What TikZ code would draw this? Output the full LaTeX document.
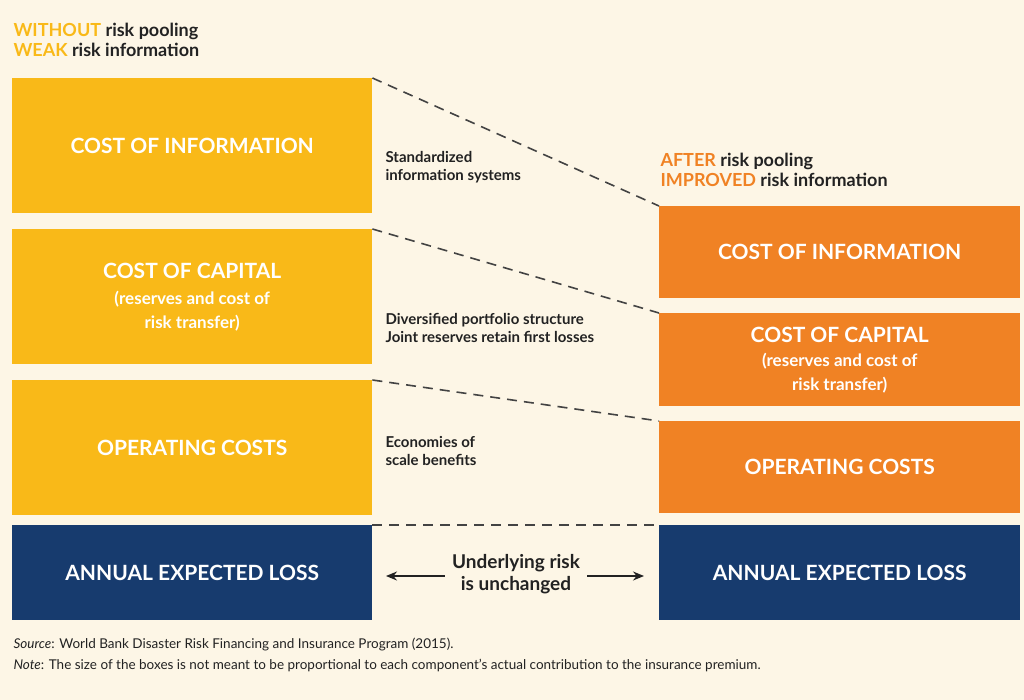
\documentclass[tikz,border=0pt]{standalone}
\usepackage{fontspec}
\setmainfont{Lato}
\usetikzlibrary{arrows.meta}
\definecolor{bg}{HTML}{FDF6E6}
\definecolor{yel}{HTML}{F9B918}
\definecolor{ora}{HTML}{F08224}
\definecolor{navy}{HTML}{173B6E}
\definecolor{dk}{HTML}{222222}
\begin{document}
\begin{tikzpicture}[x=1pt,y=-1pt,
 box/.style={minimum width=#1,inner sep=0pt,text=white,font=\fontsize{21}{24}\selectfont\bfseries,align=center},
 ybox/.style={box,fill=yel},
 obox/.style={box,fill=ora},
 nbox/.style={box,fill=navy},
 lbl/.style={font=\fontsize{15}{18}\selectfont\bfseries,text=dk,align=left,anchor=west},
 dline/.style={dk!85,dashed,dash pattern=on 10pt off 7pt,line width=1.6pt},
 sub/.style={font=\fontsize{18}{20}\selectfont\bfseries}]
\fill[bg] (0,0) rectangle (1024,700);
\useasboundingbox (0,0) rectangle (1024,700);
\node[ybox,minimum width=360pt,minimum height=135pt,anchor=north west] (l1) at (12,78) {COST OF INFORMATION};
\node[ybox,minimum width=360pt,minimum height=135pt,anchor=north west] (l2) at (12,229) {COST OF CAPITAL\\[2pt]{\fontsize{17}{20}\selectfont(reserves and cost of}\\{\fontsize{17}{20}\selectfont risk transfer)}};
\node[ybox,minimum width=360pt,minimum height=135pt,anchor=north west] (l3) at (12,380) {OPERATING COSTS};
\node[nbox,minimum width=360pt,minimum height=95pt,anchor=north west] (l4) at (12,525) {ANNUAL EXPECTED LOSS};
\node[obox,minimum width=361pt,minimum height=92pt,anchor=north west] (r1) at (659,206) {COST OF INFORMATION};
\node[obox,minimum width=361pt,minimum height=93pt,anchor=north west] (r2) at (659,313) {COST OF CAPITAL\\{\fontsize{17}{20}\selectfont(reserves and cost of}\\{\fontsize{17}{20}\selectfont risk transfer)}};
\node[obox,minimum width=361pt,minimum height=92pt,anchor=north west] (r3) at (659,421) {OPERATING COSTS};
\node[nbox,minimum width=361pt,minimum height=95pt,anchor=north west] (r4) at (659,525) {ANNUAL EXPECTED LOSS};
\draw[dline] (l1.north east) -- (r1.north west);
\draw[dline] (l2.north east) -- (r2.north west);
\draw[dline] (l3.north east) -- (r3.north west);
\draw[dline] (l4.north east) -- (r4.north west);
\node[sub,anchor=north west,align=left] (h1) at (10,20) {\textcolor{yel}{WITHOUT} \textcolor{dk}{risk pooling}\\\textcolor{yel}{WEAK} \textcolor{dk}{risk information}};
\node[sub,anchor=north west,align=left] (h2) at (657,150) {\textcolor{ora}{AFTER} \textcolor{dk}{risk pooling}\\\textcolor{ora}{IMPROVED} \textcolor{dk}{risk information}};
\node[lbl] (t1) at (382,167) {Standardized\\information systems};
\node[lbl] (t2) at (382,328) {Diversified portfolio structure\\Joint reserves retain first losses};
\node[lbl] (t3) at (382,451) {Economies of\\scale benefits};
\node[font=\fontsize{19}{22}\selectfont\bfseries,text=dk,align=center] (u) at (516,574) {Underlying risk\\is unchanged};
\draw[-{Stealth[length=11pt,width=9pt]},line width=1.6pt,dk] (u.west) ++(-4,2) coordinate (ua) -- (386,576);
\draw[-{Stealth[length=11pt,width=9pt]},line width=1.6pt,dk] (u.east) ++(4,2) coordinate (ub) -- (644,576);
\node[anchor=north west,align=left,font=\fontsize{13.5}{21}\selectfont,text=dk] (fn) at (10,634) {\textit{Source}: World Bank Disaster Risk Financing and Insurance Program (2015).\\\textit{Note}: The size of the boxes is not meant to be proportional to each component’s actual contribution to the insurance premium.};
\end{tikzpicture}
\end{document}
